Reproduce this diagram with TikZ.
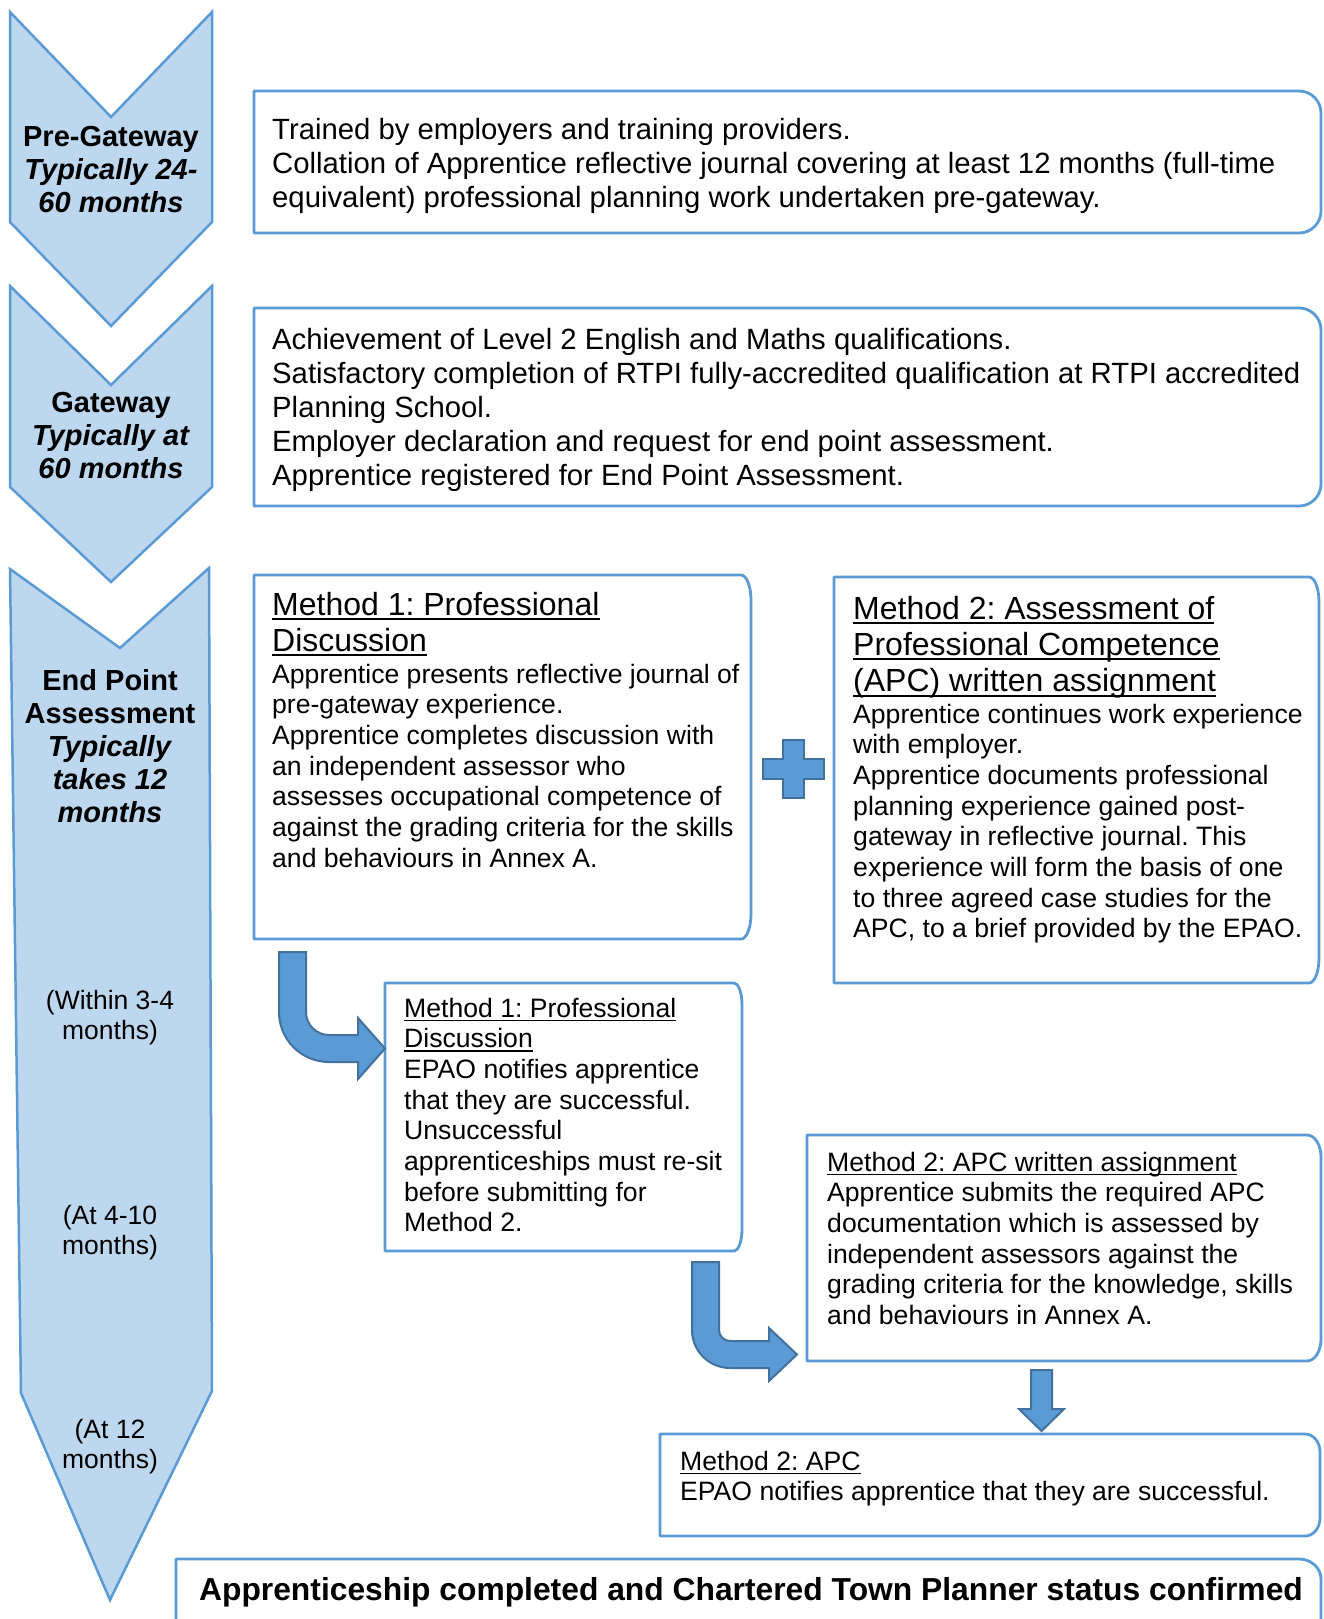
\documentclass[tikz,border=0pt]{standalone}
\usepackage{fontspec}
\setmainfont{Liberation Sans}
\frenchspacing
\newcommand{\undl}[1]{{\setbox0\hbox{#1}\rlap{\rule[-0.16em]{\wd0}{0.065em}}\box0}}
\definecolor{boxblue}{HTML}{5B9BD5}
\definecolor{chevfill}{HTML}{BDD7EE}
\definecolor{arrowedge}{HTML}{41719C}
\newcommand{\fsBig}{\fontsize{29.3}{34}\selectfont}
\newcommand{\fsTitle}{\fontsize{32}{36.3}\selectfont}
\newcommand{\fsBody}{\fontsize{26.6}{30.7}\selectfont}
\newcommand{\fsHead}{\fontsize{29}{33}\selectfont}
\newcommand{\fsSmall}{\fontsize{26.5}{30.5}\selectfont}
% box with rounded right-hand corners: x1 y1 x2 y2 rx ry
\newcommand{\rrbox}[6]{%
  \draw[boxline] (#1,#2) -- ({#3-#5},#2)
    arc[start angle=-90,end angle=0,x radius=#5,y radius=#6]
    -- (#3,{#4-#6})
    arc[start angle=0,end angle=90,x radius=#5,y radius=#6]
    -- (#1,#4) -- cycle;}
\tikzset{
  boxline/.style={draw=boxblue, line width=2.8pt, line join=round},
  chev/.style={draw=boxblue, fill=chevfill, line width=2.5pt, line join=miter},
  blockarrow/.style={fill=boxblue, draw=arrowedge, line width=2pt, line join=miter},
  txt/.style={anchor=base west, inner sep=0pt},
  ctxt/.style={anchor=base, inner sep=0pt},
}
\begin{document}
\begin{tikzpicture}[x=1pt,y=-1pt]
\clip (0,0) rectangle (1323,1619);
\fill[white] (0,0) rectangle (1323,1619);

% ---------- chevrons ----------
\draw[chev] (10,12) -- (111,117) -- (212,12) -- (212,222) -- (111,326) -- (10,222) -- cycle;
\draw[chev] (10,286) -- (111,385) -- (212,286) -- (212,487) -- (111,582) -- (10,487) -- cycle;
\draw[chev] (10,569) -- (120,648) -- (209,568) -- (212,1391) -- (110,1600) -- (21,1393) -- cycle;

\node[ctxt, font=\fsHead] (pregw) at (111,146) {\begin{tabular}[t]{@{}c@{}}\textbf{Pre-Gateway}\\ \textbf{\textit{Typically 24-}}\\ \textbf{\textit{60 months}}\end{tabular}};
\node[ctxt, font=\fsHead] (gw) at (111,412) {\begin{tabular}[t]{@{}c@{}}\textbf{Gateway}\\ \textbf{\textit{Typically at}}\\ \textbf{\textit{60 months}}\end{tabular}};
\node[ctxt, font=\fsHead] (epa) at (110,690) {\begin{tabular}[t]{@{}c@{}}\textbf{End Point}\\ \textbf{Assessment}\\ \textbf{\textit{Typically}}\\ \textbf{\textit{takes 12}}\\ \textbf{\textit{months}}\end{tabular}};
\node[ctxt, font=\fsSmall] (t34) at (110,1009) {\begin{tabular}[t]{@{}c@{}}(Within 3-4\\ months)\end{tabular}};
\node[ctxt, font=\fsSmall] (t410) at (110,1224) {\begin{tabular}[t]{@{}c@{}}(At 4-10\\ months)\end{tabular}};
\node[ctxt, font=\fsSmall] (t12) at (110,1438) {\begin{tabular}[t]{@{}c@{}}(At 12\\ months)\end{tabular}};

% ---------- boxes ----------
\rrbox{254}{91}{1321}{233}{22}{22}
\node[txt, font=\fsBig] (pretxt) at (272,139) {\begin{tabular}[t]{@{}l@{}}Trained by employers and training providers.\\ Collation of Apprentice reflective journal covering at least 12 months (full-time\\ equivalent) professional planning work undertaken pre-gateway.\end{tabular}};

\rrbox{254}{308}{1321}{506}{22}{22}
\node[txt, font=\fsBig] (gwtxt) at (272,349) {\begin{tabular}[t]{@{}l@{}}Achievement of Level 2 English and Maths qualifications.\\ Satisfactory completion of RTPI fully-accredited qualification at RTPI accredited\\ Planning School.\\ Employer declaration and request for end point assessment.\\ Apprentice registered for End Point Assessment.\end{tabular}};

\rrbox{254}{575}{751}{939}{10}{25}
\node[txt, font=\fsTitle] (m1title) at (272,615) {\begin{tabular}[t]{@{}l@{}}\undl{Method 1: Professional}\\ \undl{Discussion}\end{tabular}};
\node[txt, font=\fsBody] (m1body) at (272,683) {\begin{tabular}[t]{@{}l@{}}Apprentice presents reflective journal of\\ pre-gateway experience.\\ Apprentice completes discussion with\\ an independent assessor who\\ assesses occupational competence of\\ against the grading criteria for the skills\\ and behaviours in Annex A.\end{tabular}};

\rrbox{834}{577}{1319}{983}{10}{25}
\node[txt, font=\fsTitle] (m2title) at (853,619) {\begin{tabular}[t]{@{}l@{}}\undl{Method 2: Assessment of}\\ \undl{Professional Competence}\\ \undl{(APC) written assignment}\end{tabular}};
\node[txt, font=\fsBody] (m2body) at (853,723) {\begin{tabular}[t]{@{}l@{}}Apprentice continues work experience\\ with employer.\\ Apprentice documents professional\\ planning experience gained post-\\ gateway in reflective journal. This\\ experience will form the basis of one\\ to three agreed case studies for the\\ APC, to a brief provided by the EPAO.\end{tabular}};

\rrbox{385}{983}{742}{1251}{8}{22}
\node[txt, font=\fsBody] (m1res) at (404,1017) {\begin{tabular}[t]{@{}l@{}}\undl{Method 1: Professional}\\ \undl{Discussion}\\ EPAO notifies apprentice\\ that they are successful.\\ Unsuccessful\\ apprenticeships must re-sit\\ before submitting for\\ Method 2.\end{tabular}};

\rrbox{807}{1135}{1321}{1361}{14}{22}
\node[txt, font=\fsBody] (m2apc) at (827,1171) {\begin{tabular}[t]{@{}l@{}}\undl{Method 2: APC written assignment}\\ Apprentice submits the required APC\\ documentation which is assessed by\\ independent assessors against the\\ grading criteria for the knowledge, skills\\ and behaviours in Annex A.\end{tabular}};

\rrbox{660}{1434}{1320}{1536}{15}{18}
\node[txt, font=\fsBody] (m2res) at (680,1470) {\begin{tabular}[t]{@{}l@{}}\undl{Method 2: APC}\\ EPAO notifies apprentice that they are successful.\end{tabular}};

\rrbox{176}{1559}{1321}{1660}{22}{20}
\node[ctxt, font=\fontsize{31.8}{36}\selectfont\bfseries] (final) at (751,1600) {Apprenticeship completed and Chartered Town Planner status confirmed};

% ---------- plus sign ----------
\draw[blockarrow] (783,740) -- (804,740) -- (804,759) -- (824,759) -- (824,779) -- (804,779) -- (804,798) -- (783,798) -- (783,779) -- (763,779) -- (763,759) -- (783,759) -- cycle;

% ---------- bent arrows ----------
\draw[blockarrow] (279,952) -- (306,952) -- (306,1012)
  arc[start angle=180,end angle=90,radius=23]
  -- (358,1035) -- (358,1018) -- (385,1048.5) -- (358,1079) -- (358,1062) -- (329,1062)
  arc[start angle=90,end angle=180,radius=50] -- cycle;

\draw[blockarrow] (692,1262) -- (719,1262) -- (719,1330)
  arc[start angle=180,end angle=90,radius=11]
  -- (769,1341) -- (769,1328) -- (797,1354.5) -- (769,1381) -- (769,1368) -- (730,1368)
  arc[start angle=90,end angle=180,radius=38] -- cycle;

% ---------- down arrow ----------
\draw[blockarrow] (1031,1370) -- (1052,1370) -- (1052,1409) -- (1064,1409) -- (1041.5,1431) -- (1019,1409) -- (1031,1409) -- cycle;
\end{tikzpicture}
\end{document}
